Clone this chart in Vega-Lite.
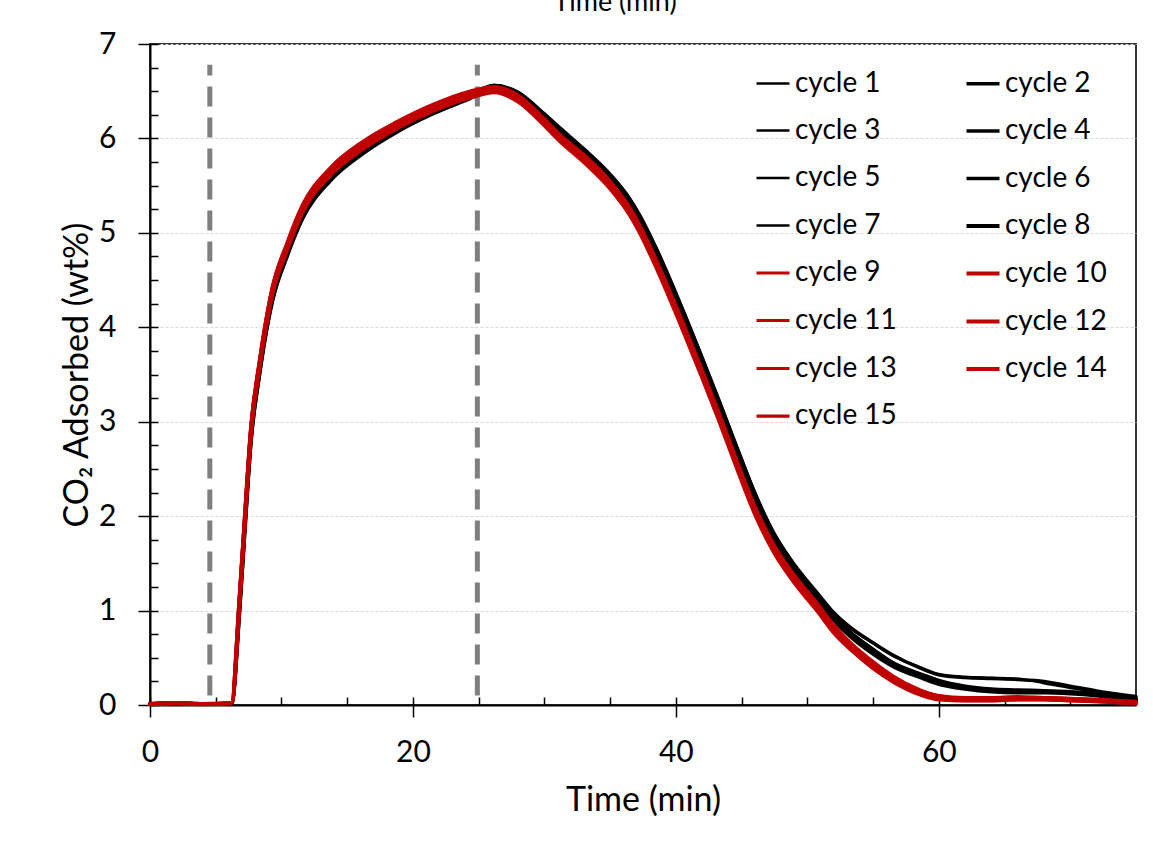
{
  "$schema": "https://vega.github.io/schema/vega-lite/v6.json",
  "width": 986,
  "height": 661,
  "autosize": {"type": "none"},
  "padding": {"left": 150, "top": 44, "right": 17, "bottom": 138},
  "background": "white",
  "config": {"font": "Lato", "view": {"stroke": "#333333", "strokeWidth": 2}},
  "title": {"text": "Time (min)", "fontSize": 27, "font": "Lato", "fontWeight": "normal", "color": "#000000", "offset": 12, "dx": -28, "anchor": "middle"},
  "datasets": {
    "curves": [
      {"t":0,"cycle 1":0.01,"cycle 2":0.01,"cycle 3":0.01,"cycle 4":0.01,"cycle 5":0.01,"cycle 6":0.01,"cycle 7":0.01,"cycle 8":0.01,"cycle 9":0.01,"cycle 10":0.01,"cycle 11":0.01,"cycle 12":0.01,"cycle 13":0.01,"cycle 14":0.01,"cycle 15":0.01},
      {"t":2,"cycle 1":0.02,"cycle 2":0.02,"cycle 3":0.02,"cycle 4":0.02,"cycle 5":0.02,"cycle 6":0.02,"cycle 7":0.02,"cycle 8":0.02,"cycle 9":0.02,"cycle 10":0.02,"cycle 11":0.02,"cycle 12":0.02,"cycle 13":0.02,"cycle 14":0.02,"cycle 15":0.02},
      {"t":4,"cycle 1":0.01,"cycle 2":0.01,"cycle 3":0.01,"cycle 4":0.01,"cycle 5":0.01,"cycle 6":0.01,"cycle 7":0.01,"cycle 8":0.01,"cycle 9":0.01,"cycle 10":0.01,"cycle 11":0.01,"cycle 12":0.01,"cycle 13":0.01,"cycle 14":0.01,"cycle 15":0.01},
      {"t":6.2,"cycle 1":0.01,"cycle 2":0.01,"cycle 3":0.01,"cycle 4":0.01,"cycle 5":0.01,"cycle 6":0.01,"cycle 7":0.01,"cycle 8":0.01,"cycle 9":0.02,"cycle 10":0.02,"cycle 11":0.02,"cycle 12":0.02,"cycle 13":0.02,"cycle 14":0.02,"cycle 15":0.02},
      {"t":6.8,"cycle 1":1.0,"cycle 2":1.03,"cycle 3":0.98,"cycle 4":1.02,"cycle 5":1.0,"cycle 6":0.97,"cycle 7":1.01,"cycle 8":0.99,"cycle 9":1.14,"cycle 10":1.12,"cycle 11":1.1,"cycle 12":1.08,"cycle 13":1.15,"cycle 14":1.07,"cycle 15":1.11},
      {"t":7.2,"cycle 1":1.85,"cycle 2":1.88,"cycle 3":1.83,"cycle 4":1.87,"cycle 5":1.85,"cycle 6":1.82,"cycle 7":1.86,"cycle 8":1.84,"cycle 9":1.99,"cycle 10":1.97,"cycle 11":1.95,"cycle 12":1.93,"cycle 13":2.0,"cycle 14":1.92,"cycle 15":1.96},
      {"t":7.7,"cycle 1":2.85,"cycle 2":2.88,"cycle 3":2.83,"cycle 4":2.87,"cycle 5":2.85,"cycle 6":2.82,"cycle 7":2.86,"cycle 8":2.84,"cycle 9":2.99,"cycle 10":2.97,"cycle 11":2.95,"cycle 12":2.93,"cycle 13":3.0,"cycle 14":2.92,"cycle 15":2.96},
      {"t":8.3,"cycle 1":3.5,"cycle 2":3.53,"cycle 3":3.48,"cycle 4":3.52,"cycle 5":3.5,"cycle 6":3.47,"cycle 7":3.51,"cycle 8":3.49,"cycle 9":3.62,"cycle 10":3.6,"cycle 11":3.58,"cycle 12":3.56,"cycle 13":3.63,"cycle 14":3.55,"cycle 15":3.59},
      {"t":9.3,"cycle 1":4.3,"cycle 2":4.33,"cycle 3":4.28,"cycle 4":4.32,"cycle 5":4.3,"cycle 6":4.27,"cycle 7":4.31,"cycle 8":4.29,"cycle 9":4.42,"cycle 10":4.4,"cycle 11":4.38,"cycle 12":4.36,"cycle 13":4.43,"cycle 14":4.35,"cycle 15":4.39},
      {"t":10.4,"cycle 1":4.77,"cycle 2":4.8,"cycle 3":4.75,"cycle 4":4.79,"cycle 5":4.77,"cycle 6":4.74,"cycle 7":4.78,"cycle 8":4.76,"cycle 9":4.88,"cycle 10":4.86,"cycle 11":4.84,"cycle 12":4.82,"cycle 13":4.89,"cycle 14":4.81,"cycle 15":4.85},
      {"t":11.6,"cycle 1":5.18,"cycle 2":5.21,"cycle 3":5.16,"cycle 4":5.2,"cycle 5":5.18,"cycle 6":5.15,"cycle 7":5.19,"cycle 8":5.17,"cycle 9":5.29,"cycle 10":5.27,"cycle 11":5.25,"cycle 12":5.23,"cycle 13":5.3,"cycle 14":5.22,"cycle 15":5.26},
      {"t":13.7,"cycle 1":5.58,"cycle 2":5.61,"cycle 3":5.56,"cycle 4":5.6,"cycle 5":5.58,"cycle 6":5.55,"cycle 7":5.59,"cycle 8":5.57,"cycle 9":5.68,"cycle 10":5.66,"cycle 11":5.64,"cycle 12":5.62,"cycle 13":5.69,"cycle 14":5.61,"cycle 15":5.65},
      {"t":16.2,"cycle 1":5.87,"cycle 2":5.9,"cycle 3":5.85,"cycle 4":5.89,"cycle 5":5.87,"cycle 6":5.84,"cycle 7":5.88,"cycle 8":5.86,"cycle 9":5.96,"cycle 10":5.94,"cycle 11":5.92,"cycle 12":5.9,"cycle 13":5.97,"cycle 14":5.89,"cycle 15":5.93},
      {"t":18.8,"cycle 1":6.1,"cycle 2":6.12,"cycle 3":6.08,"cycle 4":6.11,"cycle 5":6.1,"cycle 6":6.07,"cycle 7":6.11,"cycle 8":6.09,"cycle 9":6.17,"cycle 10":6.16,"cycle 11":6.14,"cycle 12":6.12,"cycle 13":6.18,"cycle 14":6.11,"cycle 15":6.15},
      {"t":21.5,"cycle 1":6.29,"cycle 2":6.31,"cycle 3":6.27,"cycle 4":6.3,"cycle 5":6.29,"cycle 6":6.26,"cycle 7":6.3,"cycle 8":6.28,"cycle 9":6.35,"cycle 10":6.34,"cycle 11":6.32,"cycle 12":6.3,"cycle 13":6.36,"cycle 14":6.29,"cycle 15":6.33},
      {"t":24.3,"cycle 1":6.45,"cycle 2":6.46,"cycle 3":6.43,"cycle 4":6.46,"cycle 5":6.45,"cycle 6":6.42,"cycle 7":6.46,"cycle 8":6.44,"cycle 9":6.49,"cycle 10":6.48,"cycle 11":6.46,"cycle 12":6.44,"cycle 13":6.5,"cycle 14":6.43,"cycle 15":6.47},
      {"t":26.2,"cycle 1":6.55,"cycle 2":6.56,"cycle 3":6.53,"cycle 4":6.56,"cycle 5":6.55,"cycle 6":6.53,"cycle 7":6.56,"cycle 8":6.54,"cycle 9":6.54,"cycle 10":6.53,"cycle 11":6.52,"cycle 12":6.5,"cycle 13":6.55,"cycle 14":6.49,"cycle 15":6.52},
      {"t":28,"cycle 1":6.47,"cycle 2":6.49,"cycle 3":6.45,"cycle 4":6.48,"cycle 5":6.47,"cycle 6":6.44,"cycle 7":6.48,"cycle 8":6.46,"cycle 9":6.45,"cycle 10":6.43,"cycle 11":6.42,"cycle 12":6.4,"cycle 13":6.46,"cycle 14":6.39,"cycle 15":6.42},
      {"t":30,"cycle 1":6.23,"cycle 2":6.26,"cycle 3":6.21,"cycle 4":6.25,"cycle 5":6.23,"cycle 6":6.2,"cycle 7":6.24,"cycle 8":6.22,"cycle 9":6.2,"cycle 10":6.18,"cycle 11":6.17,"cycle 12":6.15,"cycle 13":6.21,"cycle 14":6.14,"cycle 15":6.17},
      {"t":31.2,"cycle 1":6.08,"cycle 2":6.11,"cycle 3":6.06,"cycle 4":6.1,"cycle 5":6.08,"cycle 6":6.05,"cycle 7":6.09,"cycle 8":6.07,"cycle 9":6.03,"cycle 10":6.01,"cycle 11":6.0,"cycle 12":5.98,"cycle 13":6.04,"cycle 14":5.97,"cycle 15":6.0},
      {"t":33,"cycle 1":5.86,"cycle 2":5.89,"cycle 3":5.84,"cycle 4":5.88,"cycle 5":5.86,"cycle 6":5.83,"cycle 7":5.87,"cycle 8":5.85,"cycle 9":5.82,"cycle 10":5.8,"cycle 11":5.78,"cycle 12":5.76,"cycle 13":5.83,"cycle 14":5.75,"cycle 15":5.79},
      {"t":35,"cycle 1":5.59,"cycle 2":5.62,"cycle 3":5.57,"cycle 4":5.61,"cycle 5":5.59,"cycle 6":5.56,"cycle 7":5.6,"cycle 8":5.58,"cycle 9":5.54,"cycle 10":5.52,"cycle 11":5.5,"cycle 12":5.48,"cycle 13":5.55,"cycle 14":5.47,"cycle 15":5.51},
      {"t":36.5,"cycle 1":5.33,"cycle 2":5.36,"cycle 3":5.31,"cycle 4":5.35,"cycle 5":5.33,"cycle 6":5.3,"cycle 7":5.34,"cycle 8":5.32,"cycle 9":5.26,"cycle 10":5.24,"cycle 11":5.22,"cycle 12":5.2,"cycle 13":5.27,"cycle 14":5.19,"cycle 15":5.23},
      {"t":37.2,"cycle 1":5.17,"cycle 2":5.2,"cycle 3":5.15,"cycle 4":5.19,"cycle 5":5.17,"cycle 6":5.14,"cycle 7":5.18,"cycle 8":5.16,"cycle 9":5.09,"cycle 10":5.07,"cycle 11":5.05,"cycle 12":5.03,"cycle 13":5.1,"cycle 14":5.02,"cycle 15":5.06},
      {"t":38.5,"cycle 1":4.81,"cycle 2":4.84,"cycle 3":4.79,"cycle 4":4.83,"cycle 5":4.81,"cycle 6":4.78,"cycle 7":4.82,"cycle 8":4.8,"cycle 9":4.71,"cycle 10":4.69,"cycle 11":4.67,"cycle 12":4.65,"cycle 13":4.72,"cycle 14":4.64,"cycle 15":4.68},
      {"t":40.4,"cycle 1":4.2,"cycle 2":4.23,"cycle 3":4.18,"cycle 4":4.22,"cycle 5":4.2,"cycle 6":4.17,"cycle 7":4.21,"cycle 8":4.19,"cycle 9":4.09,"cycle 10":4.07,"cycle 11":4.05,"cycle 12":4.03,"cycle 13":4.1,"cycle 14":4.02,"cycle 15":4.06},
      {"t":42,"cycle 1":3.65,"cycle 2":3.68,"cycle 3":3.63,"cycle 4":3.67,"cycle 5":3.65,"cycle 6":3.62,"cycle 7":3.66,"cycle 8":3.64,"cycle 9":3.54,"cycle 10":3.52,"cycle 11":3.5,"cycle 12":3.48,"cycle 13":3.55,"cycle 14":3.47,"cycle 15":3.51},
      {"t":43.3,"cycle 1":3.19,"cycle 2":3.22,"cycle 3":3.17,"cycle 4":3.21,"cycle 5":3.19,"cycle 6":3.16,"cycle 7":3.2,"cycle 8":3.18,"cycle 9":3.08,"cycle 10":3.06,"cycle 11":3.04,"cycle 12":3.02,"cycle 13":3.09,"cycle 14":3.01,"cycle 15":3.05},
      {"t":44.7,"cycle 1":2.68,"cycle 2":2.71,"cycle 3":2.66,"cycle 4":2.7,"cycle 5":2.68,"cycle 6":2.65,"cycle 7":2.69,"cycle 8":2.67,"cycle 9":2.56,"cycle 10":2.54,"cycle 11":2.52,"cycle 12":2.5,"cycle 13":2.57,"cycle 14":2.49,"cycle 15":2.53},
      {"t":46,"cycle 1":2.22,"cycle 2":2.25,"cycle 3":2.2,"cycle 4":2.24,"cycle 5":2.22,"cycle 6":2.19,"cycle 7":2.23,"cycle 8":2.21,"cycle 9":2.1,"cycle 10":2.08,"cycle 11":2.06,"cycle 12":2.04,"cycle 13":2.11,"cycle 14":2.03,"cycle 15":2.07},
      {"t":47.5,"cycle 1":1.79,"cycle 2":1.81,"cycle 3":1.76,"cycle 4":1.8,"cycle 5":1.78,"cycle 6":1.75,"cycle 7":1.79,"cycle 8":1.77,"cycle 9":1.68,"cycle 10":1.66,"cycle 11":1.64,"cycle 12":1.62,"cycle 13":1.69,"cycle 14":1.61,"cycle 15":1.65},
      {"t":49,"cycle 1":1.48,"cycle 2":1.49,"cycle 3":1.44,"cycle 4":1.48,"cycle 5":1.46,"cycle 6":1.43,"cycle 7":1.47,"cycle 8":1.45,"cycle 9":1.37,"cycle 10":1.35,"cycle 11":1.33,"cycle 12":1.31,"cycle 13":1.38,"cycle 14":1.3,"cycle 15":1.34},
      {"t":50.8,"cycle 1":1.17,"cycle 2":1.18,"cycle 3":1.12,"cycle 4":1.16,"cycle 5":1.14,"cycle 6":1.11,"cycle 7":1.15,"cycle 8":1.13,"cycle 9":1.06,"cycle 10":1.04,"cycle 11":1.02,"cycle 12":1.0,"cycle 13":1.07,"cycle 14":0.99,"cycle 15":1.03},
      {"t":52,"cycle 1":0.97,"cycle 2":0.98,"cycle 3":0.91,"cycle 4":0.95,"cycle 5":0.93,"cycle 6":0.9,"cycle 7":0.94,"cycle 8":0.92,"cycle 9":0.84,"cycle 10":0.82,"cycle 11":0.8,"cycle 12":0.78,"cycle 13":0.85,"cycle 14":0.77,"cycle 15":0.81},
      {"t":53.3,"cycle 1":0.81,"cycle 2":0.82,"cycle 3":0.73,"cycle 4":0.77,"cycle 5":0.75,"cycle 6":0.72,"cycle 7":0.76,"cycle 8":0.74,"cycle 9":0.65,"cycle 10":0.64,"cycle 11":0.62,"cycle 12":0.6,"cycle 13":0.66,"cycle 14":0.59,"cycle 15":0.63},
      {"t":55,"cycle 1":0.65,"cycle 2":0.66,"cycle 3":0.55,"cycle 4":0.59,"cycle 5":0.57,"cycle 6":0.54,"cycle 7":0.58,"cycle 8":0.56,"cycle 9":0.45,"cycle 10":0.44,"cycle 11":0.42,"cycle 12":0.4,"cycle 13":0.46,"cycle 14":0.39,"cycle 15":0.43},
      {"t":56.5,"cycle 1":0.52,"cycle 2":0.53,"cycle 3":0.42,"cycle 4":0.45,"cycle 5":0.44,"cycle 6":0.41,"cycle 7":0.44,"cycle 8":0.43,"cycle 9":0.3,"cycle 10":0.29,"cycle 11":0.27,"cycle 12":0.26,"cycle 13":0.31,"cycle 14":0.25,"cycle 15":0.28},
      {"t":58.6,"cycle 1":0.4,"cycle 2":0.39,"cycle 3":0.3,"cycle 4":0.33,"cycle 5":0.32,"cycle 6":0.29,"cycle 7":0.32,"cycle 8":0.31,"cycle 9":0.15,"cycle 10":0.14,"cycle 11":0.13,"cycle 12":0.12,"cycle 13":0.16,"cycle 14":0.11,"cycle 15":0.14},
      {"t":60,"cycle 1":0.33,"cycle 2":0.32,"cycle 3":0.24,"cycle 4":0.26,"cycle 5":0.25,"cycle 6":0.22,"cycle 7":0.25,"cycle 8":0.24,"cycle 9":0.1,"cycle 10":0.09,"cycle 11":0.08,"cycle 12":0.07,"cycle 13":0.1,"cycle 14":0.06,"cycle 15":0.09},
      {"t":62,"cycle 1":0.3,"cycle 2":0.29,"cycle 3":0.18,"cycle 4":0.2,"cycle 5":0.19,"cycle 6":0.17,"cycle 7":0.19,"cycle 8":0.18,"cycle 9":0.07,"cycle 10":0.06,"cycle 11":0.06,"cycle 12":0.05,"cycle 13":0.08,"cycle 14":0.05,"cycle 15":0.07},
      {"t":64,"cycle 1":0.29,"cycle 2":0.28,"cycle 3":0.15,"cycle 4":0.17,"cycle 5":0.16,"cycle 6":0.14,"cycle 7":0.16,"cycle 8":0.15,"cycle 9":0.07,"cycle 10":0.06,"cycle 11":0.06,"cycle 12":0.05,"cycle 13":0.08,"cycle 14":0.05,"cycle 15":0.06},
      {"t":66,"cycle 1":0.28,"cycle 2":0.27,"cycle 3":0.14,"cycle 4":0.16,"cycle 5":0.15,"cycle 6":0.13,"cycle 7":0.15,"cycle 8":0.14,"cycle 9":0.08,"cycle 10":0.07,"cycle 11":0.07,"cycle 12":0.06,"cycle 13":0.09,"cycle 14":0.06,"cycle 15":0.07},
      {"t":68,"cycle 1":0.23,"cycle 2":0.25,"cycle 3":0.14,"cycle 4":0.15,"cycle 5":0.14,"cycle 6":0.13,"cycle 7":0.14,"cycle 8":0.14,"cycle 9":0.08,"cycle 10":0.07,"cycle 11":0.07,"cycle 12":0.06,"cycle 13":0.08,"cycle 14":0.06,"cycle 15":0.07},
      {"t":70,"cycle 1":0.18,"cycle 2":0.2,"cycle 3":0.13,"cycle 4":0.14,"cycle 5":0.13,"cycle 6":0.12,"cycle 7":0.13,"cycle 8":0.13,"cycle 9":0.07,"cycle 10":0.06,"cycle 11":0.06,"cycle 12":0.05,"cycle 13":0.07,"cycle 14":0.05,"cycle 15":0.06},
      {"t":72,"cycle 1":0.14,"cycle 2":0.15,"cycle 3":0.11,"cycle 4":0.12,"cycle 5":0.11,"cycle 6":0.1,"cycle 7":0.11,"cycle 8":0.11,"cycle 9":0.06,"cycle 10":0.05,"cycle 11":0.05,"cycle 12":0.04,"cycle 13":0.06,"cycle 14":0.04,"cycle 15":0.05},
      {"t":75,"cycle 1":0.08,"cycle 2":0.09,"cycle 3":0.06,"cycle 4":0.07,"cycle 5":0.06,"cycle 6":0.05,"cycle 7":0.06,"cycle 8":0.06,"cycle 9":0.03,"cycle 10":0.03,"cycle 11":0.03,"cycle 12":0.02,"cycle 13":0.04,"cycle 14":0.02,"cycle 15":0.03}
    ],
    "markers": [
      {"x": 4.55, "y1": 0.1, "y2": 6.78},
      {"x": 24.9, "y1": 0.1, "y2": 6.78}
    ]
  },
  "layer": [
    {
      "data": {"name": "markers"},
      "mark": {"type": "rule", "color": "#7f7f7f", "strokeWidth": 5, "strokeDash": [20, 11]},
      "encoding": {
        "x": {"field": "x", "type": "quantitative", "scale": {"domain": [0, 75], "nice": false, "zero": false},
          "axis": {"orient": "bottom", "values": [0,5,10,15,20,25,30,35,40,45,50,55,60,65,70,75], "tickSize": -8, "tickColor": "#000000", "tickWidth": 1.5, "labels": false, "domain": false, "grid": false, "title": null}},
        "y": {"field": "y1", "type": "quantitative", "scale": {"domain": [0, 7], "nice": false},
          "axis": {"orient": "left", "values": [0,0.25,0.5,0.75,1,1.25,1.5,1.75,2,2.25,2.5,2.75,3,3.25,3.5,3.75,4,4.25,4.5,4.75,5,5.25,5.5,5.75,6,6.25,6.5,6.75,7], "tickSize": -8, "tickColor": "#000000", "tickWidth": 1.5, "labels": false, "domain": false, "grid": false, "title": null}},
        "y2": {"field": "y2"}
      }
    },
    {
      "data": {"name": "curves"},
      "transform": [
        {"fold": ["cycle 1","cycle 2","cycle 3","cycle 4","cycle 5","cycle 6","cycle 7","cycle 8","cycle 9","cycle 10","cycle 11","cycle 12","cycle 13","cycle 14","cycle 15"], "as": ["cycle", "value"]}
      ],
      "mark": {"type": "line", "interpolate": "monotone", "strokeJoin": "round", "strokeCap": "round"},
      "encoding": {
        "x": {"field": "t", "type": "quantitative", "scale": {"domain": [0, 75], "nice": false, "zero": false},
          "axis": {"orient": "bottom", "values": [0, 20, 40, 60], "tickSize": 12, "tickColor": "#000000", "tickWidth": 1.5, "domainColor": "#000000", "domainWidth": 2, "labelFont": "Lato", "labelFontSize": 30, "labelColor": "#000000", "labelPadding": 20, "labelFlush": false, "title": "Time (min)", "titleFont": "Lato", "titleFontSize": 34, "titleFontWeight": "normal", "titleColor": "#000000", "titlePadding": 16, "grid": false}},
        "y": {"field": "value", "type": "quantitative", "scale": {"domain": [0, 7], "nice": false},
          "axis": {"orient": "left", "values": [0,1,2,3,4,5,6,7], "tickSize": 12, "tickColor": "#000000", "tickWidth": 1.5, "domainColor": "#000000", "domainWidth": 2, "labelFont": "Lato", "labelFontSize": 30, "labelColor": "#000000", "labelPadding": 22, "labelFlush": false, "title": "CO₂ Adsorbed (wt%)", "titleFont": "Lato", "titleFontSize": 34, "titleFontWeight": "normal", "titleColor": "#000000", "titlePadding": 4, "grid": true, "gridColor": "#d9d9d9", "gridDash": [3, 2], "gridWidth": 1}},
        "color": {"field": "cycle", "type": "nominal",
          "scale": {"domain": ["cycle 1","cycle 3","cycle 5","cycle 7","cycle 9","cycle 11","cycle 13","cycle 15","cycle 2","cycle 4","cycle 6","cycle 8","cycle 10","cycle 12","cycle 14"],
                    "range": ["#000000","#000000","#000000","#000000","#c00000","#c00000","#c00000","#c00000","#000000","#000000","#000000","#000000","#c00000","#c00000","#c00000"]},
          "legend": {"title": null, "orient": "none", "legendX": 604, "legendY": 21, "columns": 2, "columnPadding": 61, "rowPadding": 14.5, "symbolType": "stroke", "symbolSize": 1089, "labelFont": "Lato", "labelFontSize": 28, "labelColor": "#000000", "labelOffset": 3, "labelLimit": 300}},
        "strokeWidth": {"field": "cycle", "type": "nominal",
          "scale": {"domain": ["cycle 1","cycle 3","cycle 5","cycle 7","cycle 9","cycle 11","cycle 13","cycle 15","cycle 2","cycle 4","cycle 6","cycle 8","cycle 10","cycle 12","cycle 14"],
                    "range": [2.3, 4.2, 4.2, 4.2, 2.3, 4.2, 4.2, 2.3, 2.3, 4.2, 4.2, 4.2, 2.3, 4.2, 4.2]},
          "legend": {"title": null, "orient": "none", "legendX": 604, "legendY": 21, "columns": 2, "columnPadding": 61, "rowPadding": 14.5, "symbolType": "stroke", "symbolSize": 1089, "labelFont": "Lato", "labelFontSize": 28, "labelColor": "#000000", "labelOffset": 3, "labelLimit": 300}}
      }
    }
  ],
  "resolve": {"axis": {"x": "independent", "y": "independent"}}
}
